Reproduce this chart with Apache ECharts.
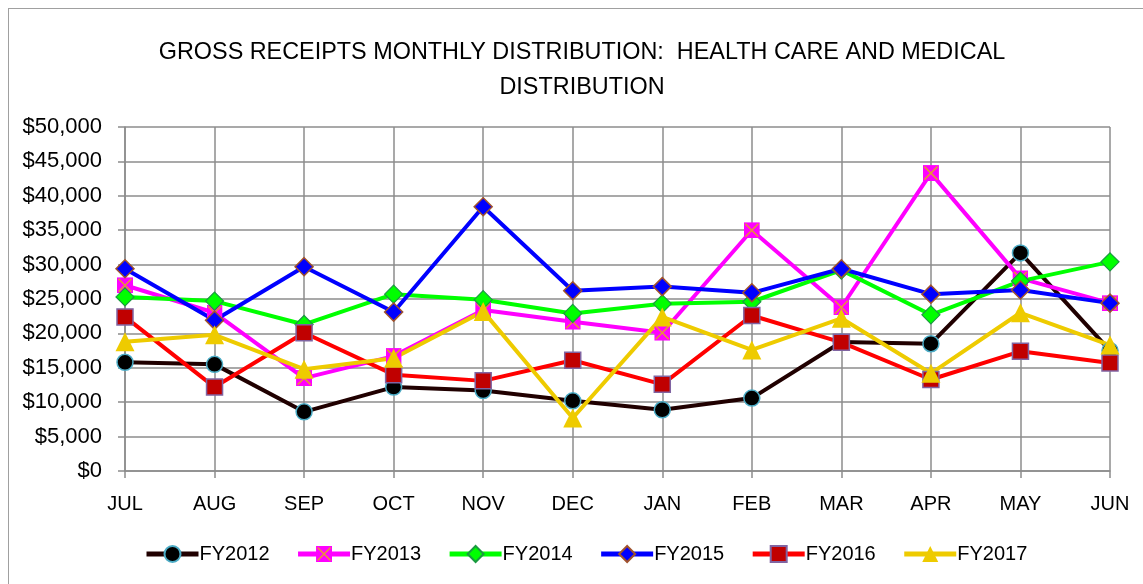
<!DOCTYPE html>
<html>
<head>
<meta charset="utf-8">
<script src="https://cdn.jsdelivr.net/npm/echarts@6/dist/echarts.min.js"></script>
<style>
html,body{margin:0;padding:0;background:#fff;}
#wrap{position:relative;width:1143px;height:584px;overflow:hidden;}
#frame{position:absolute;left:8px;top:8px;width:1300px;height:700px;border:1px solid #a0a0a0;box-sizing:border-box;}
#chart{position:absolute;left:0;top:0;width:1143px;height:584px;}
</style>
</head>
<body>
<div id="wrap"><div id="frame"></div><div id="chart"></div></div>
<script>
const months = ['JUL','AUG','SEP','OCT','NOV','DEC','JAN','FEB','MAR','APR','MAY','JUN'];
const fy2012 = [15800,15500,8600,12200,11700,10200,8900,10600,18750,18500,31700,17500];
const fy2013 = [27000,23000,13500,16700,23400,21700,20100,35000,23800,43300,28000,24400];
const fy2014 = [25300,24700,21300,25700,24900,22900,24300,24600,29200,22700,27600,30400];
const fy2015 = [29400,21900,29700,23100,38400,26200,26800,25900,29400,25700,26300,24400];
const fy2016 = [22400,12200,20100,14000,13100,16100,12600,22600,18700,13300,17400,15700];
const fy2017 = [18800,19800,14800,16400,23200,7700,22400,17600,22200,14200,23000,18300];
const yTicks = ['$0','$5,000','$10,000','$15,000','$20,000','$25,000','$30,000','$35,000','$40,000','$45,000','$50,000'];

const FONT = 'Liberation Sans';
const svgX = "<svg xmlns='http://www.w3.org/2000/svg' width='16' height='16'><rect x='0' y='0' width='16' height='16' fill='#ff00ff'/><path d='M1.5 1.5L14.5 14.5M14.5 1.5L1.5 14.5' stroke='#e8903a' stroke-width='1.6'/></svg>";
const xSymbol = 'image://data:image/svg+xml;charset=utf-8,' + encodeURIComponent(svgX);

function mk(name, data, color, symbol, size, fill, border, bw) {
  return {
    name: name, type: 'line', data: data,
    symbol: symbol, symbolSize: size,
    lineStyle: {color: color, width: 4},
    itemStyle: {color: fill, borderColor: border, borderWidth: bw},
    emphasis: {disabled: true},
    animation: false
  };
}

const chart = echarts.init(document.getElementById('chart'), null, {renderer: 'canvas'});
chart.setOption({
  animation: false,
  title: {
    text: 'GROSS RECEIPTS MONTHLY DISTRIBUTION:  HEALTH CARE AND MEDICAL\nDISTRIBUTION',
    left: 577, top: 30, textAlign: 'center',
    textStyle: {fontFamily: FONT, fontSize: 23.4, fontWeight: 'normal', color: '#000', lineHeight: 35}
  },
  legend: {
    bottom: 15, left: 139,
    itemWidth: 52, itemHeight: 20, itemGap: 26,
    lineStyle: {width: 5},
    textStyle: {fontFamily: FONT, fontSize: 20, color: '#000', padding: [0,0,0,-4]},
    data: ['FY2012','FY2013','FY2014','FY2015','FY2016','FY2017']
  },
  grid: {left: 125, right: 33, top: 127, bottom: 113, containLabel: false},
  xAxis: {
    type: 'category', data: months, boundaryGap: false,
    axisLine: {lineStyle: {color: '#8c8c8c', width: 1.5}},
    axisTick: {show: true, length: 7, lineStyle: {color: '#8c8c8c', width: 1.5}},
    axisLabel: {fontFamily: FONT, fontSize: 20, color: '#000', margin: 23},
    splitLine: {show: true, lineStyle: {color: '#8c8c8c', width: 1.5}}
  },
  yAxis: {
    type: 'value', min: 0, max: 50000, interval: 5000,
    axisLine: {show: true, lineStyle: {color: '#8c8c8c', width: 1.5}},
    axisTick: {show: true, length: 7, lineStyle: {color: '#8c8c8c', width: 1.5}},
    axisLabel: {fontFamily: FONT, fontSize: 22, color: '#000', margin: 23,
      formatter: function (v) { return yTicks[Math.round(v / 5000)]; }},
    splitLine: {show: true, lineStyle: {color: '#8c8c8c', width: 1.5}}
  },
  series: [
    mk('FY2012', fy2012, '#200000', 'circle', 16, '#000000', '#4bacc6', 1.5),
    mk('FY2013', fy2013, '#ff00ff', xSymbol, 16, '#ff00ff', '#ff00ff', 0),
    mk('FY2014', fy2014, '#00ff00', 'diamond', 18, '#00ff00', '#1a9a40', 1.2),
    mk('FY2015', fy2015, '#0000ff', 'diamond', 18, '#0000ff', '#a0522d', 1.5),
    mk('FY2016', fy2016, '#ff0000', 'rect', 16, '#c00000', '#8064a2', 1.5),
    mk('FY2017', fy2017, '#eecb00', 'triangle', 19, '#eecb00', '#eecb00', 0)
  ]
});
</script>
</body>
</html>
